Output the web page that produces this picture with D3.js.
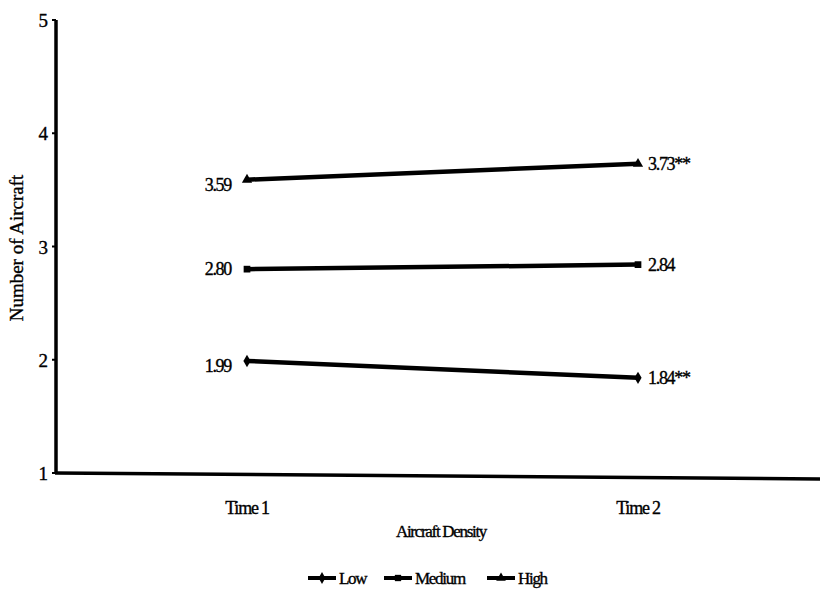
<!DOCTYPE html>
<html><head><meta charset="utf-8">
<script src="https://cdn.jsdelivr.net/npm/d3@7/dist/d3.min.js"></script>
<style>body{margin:0;background:#fff}svg{display:block}text{font-family:"Liberation Serif","Times New Roman",serif;fill:#000;stroke:#000;stroke-width:0.35px}</style>
</head><body><svg id="c" width="820" height="593"></svg>
<script>
const times = ["Time 1", "Time 2"];
const seriesNames = ["Low", "Medium", "High"];
const lowVals = [1.99, 1.84];
const mediumVals = [2.80, 2.84];
const highVals = [3.59, 3.73];
const valueLabels = [["1.99", "1.84**"], ["2.80", "2.84"], ["3.59", "3.73**"]];
const yTicks = [1, 2, 3, 4, 5];

const svg = d3.select("#c");
const x = d3.scalePoint().domain(times).range([247, 638]);
const y = d3.scaleLinear().domain([1, 5]).range([473, 20]);
const series = [lowVals, mediumVals, highVals];
const symbols = [d3.symbolDiamond, d3.symbolSquare, d3.symbolTriangle];
const labelDy = [11, 6, 11];

// y axis
svg.append("line").attr("x1", 56).attr("x2", 56).attr("y1", y(5)).attr("y2", y(1)).attr("stroke", "#000").attr("stroke-width", 3.5);
yTicks.forEach(t => {
  svg.append("line").attr("x1", 52).attr("x2", 56).attr("y1", y(t)).attr("y2", y(t)).attr("stroke", "#000").attr("stroke-width", 2);
  svg.append("text").attr("x", 48).attr("y", y(t) + 7).attr("text-anchor", "end").attr("font-size", 19).text(t);
});
// x axis
svg.append("line").attr("x1", 55).attr("x2", 820).attr("y1", y(1)).attr("y2", y(1) + 6).attr("stroke", "#000").attr("stroke-width", 3.5);
times.forEach(t => {
  svg.append("text").attr("x", x(t)).attr("y", 514).attr("text-anchor", "middle").attr("font-size", 18).attr("letter-spacing", -1.2).text(t);
});
svg.append("text").attr("x", 441).attr("y", 537).attr("text-anchor", "middle").attr("font-size", 17).attr("letter-spacing", -1.3).text("Aircraft Density");
svg.append("text").attr("transform", "translate(23,248) rotate(-90)").attr("text-anchor", "middle").attr("font-size", 19).text("Number of Aircraft");

const line = d3.line().x((d, i) => x(times[i])).y(d => y(d));
series.forEach((vals, si) => {
  svg.append("path").attr("d", line(vals)).attr("fill", "none").attr("stroke", "#000").attr("stroke-width", 4.5);
  vals.forEach((v, i) => {
    svg.append("path").attr("d", d3.symbol(symbols[si], 45)()).attr("transform", `translate(${x(times[i])},${y(v)})`).attr("fill", "#000");
  });
  svg.append("text").attr("x", x(times[0]) - 16).attr("y", y(vals[0]) + labelDy[si]).attr("text-anchor", "end").attr("font-size", 18).attr("letter-spacing", -1.3).text(valueLabels[si][0]);
  svg.append("text").attr("x", x(times[1]) + 10).attr("y", y(vals[1]) + 6).attr("text-anchor", "start").attr("font-size", 18).attr("letter-spacing", -1.3).text(valueLabels[si][1]);
});

// legend
const legX = [308, 384, 487];
seriesNames.forEach((n, i) => {
  const g = svg.append("g").attr("transform", `translate(${legX[i]},578)`);
  g.append("line").attr("x1", 0).attr("x2", 28).attr("y1", 0).attr("y2", 0).attr("stroke", "#000").attr("stroke-width", 4);
  g.append("path").attr("d", d3.symbol(symbols[i], 40)()).attr("transform", "translate(14,0)").attr("fill", "#000");
  g.append("text").attr("x", 31).attr("y", 6).attr("font-size", 17).attr("letter-spacing", -1.3).text(n);
});
</script></body></html>
